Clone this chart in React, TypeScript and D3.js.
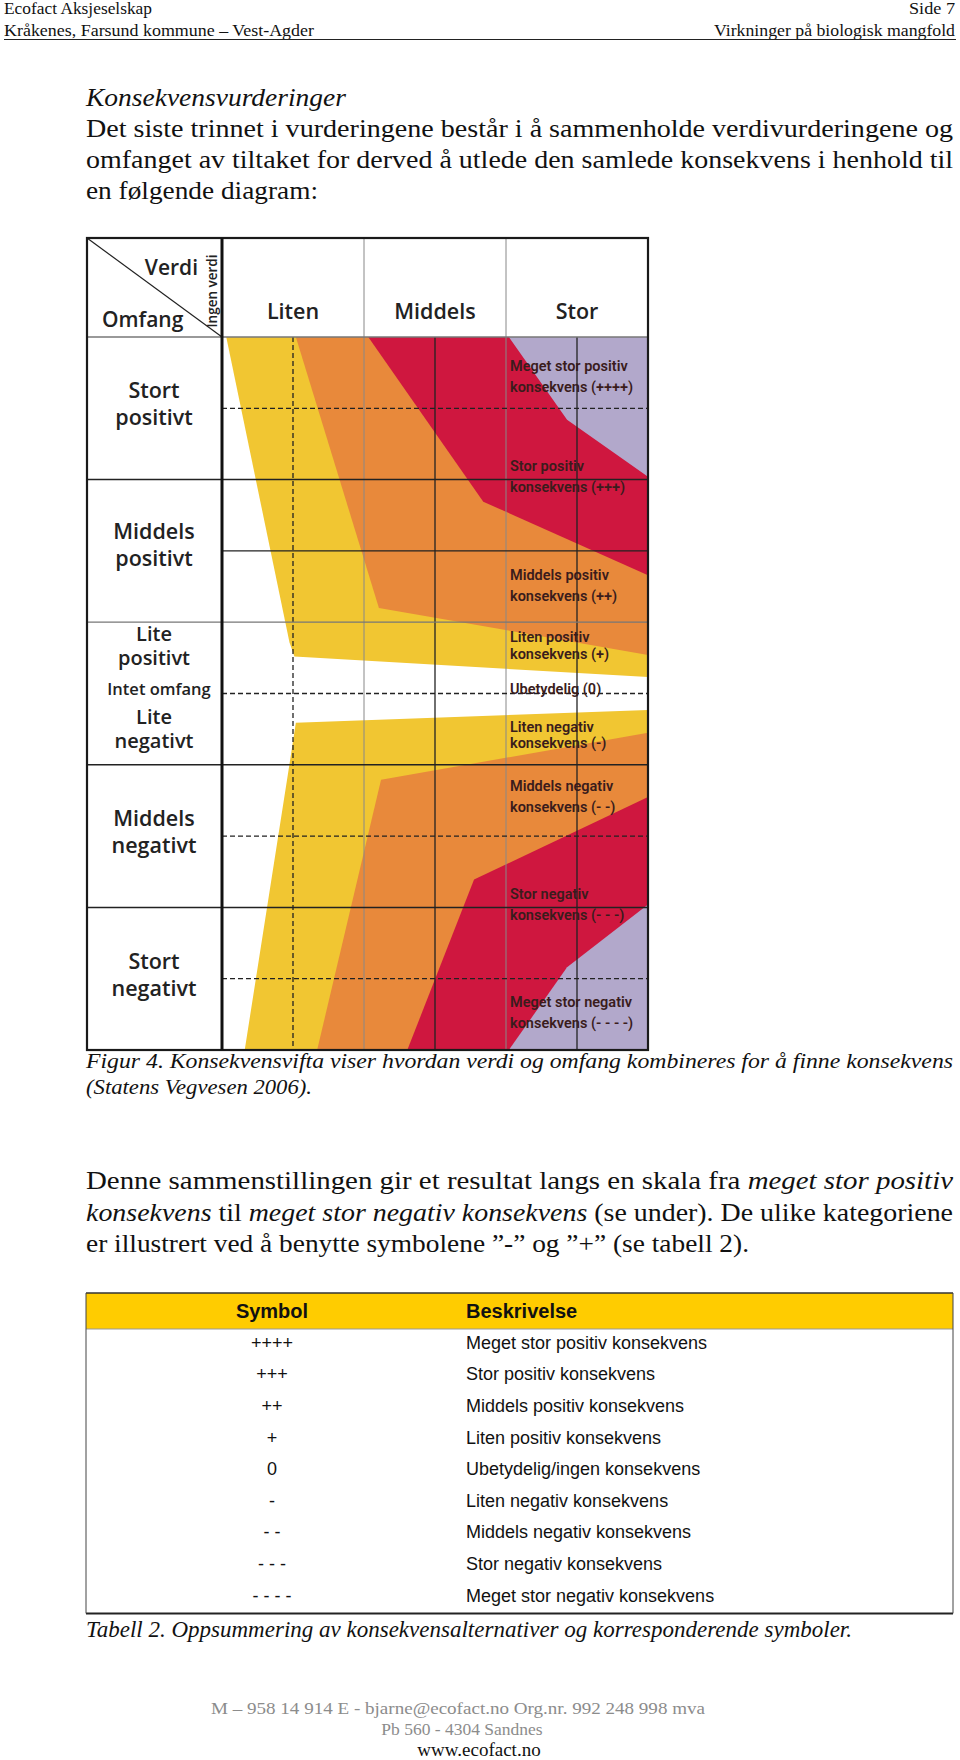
import React from 'react';
import * as d3 from 'd3';

// ---------------- data ----------------
const headerLeft = ['Ecofact Aksjeselskap', 'Kråkenes, Farsund kommune – Vest-Agder'];
const headerRight = ['Side 7', 'Virkninger på biologisk mangfold'];

const introTitle = 'Konsekvensvurderinger';
const introLines = [
  'Det siste trinnet i vurderingene består i å sammenholde verdivurderingene og',
  'omfanget av tiltaket for derved å utlede den samlede konsekvens i henhold til',
  'en følgende diagram:',
];

const verdiCategories = ['Liten', 'Middels', 'Stor'];
// omfang categories: label lines, label centre on the omfang scale (+5 .. -5)
const omfangCategories = [
  { lines: ['Stort', 'positivt'], mid: 4.05 },
  { lines: ['Middels', 'positivt'], mid: 2.08 },
  { lines: ['Lite', 'positivt'], mid: 0.66 },
  { lines: ['Lite', 'negativt'], mid: -0.5 },
  { lines: ['Middels', 'negativt'], mid: -1.95 },
  { lines: ['Stort', 'negativt'], mid: -3.95 },
];
const intetOmfang = 'Intet omfang';

// consequence bands: boundary lines (verdi half-column units 0..6, omfang -5..5)
const posYellow = [[0.06, 5], [0.95, 0.72], [1.02, 0.52], [6, 0.23]];
const posOrange = [[1.04, 5], [2.21, 1.2], [6, 0.54]];
const posRed = [[2.06, 5], [3.68, 2.69], [6, 1.66]];
const posPurple = [[4.04, 5], [4.86, 3.84], [5.46, 3.42], [6, 3.04]];
const negYellow = [[0.32, -5], [0.96, -0.93], [1.04, -0.41], [6, -0.23]];
const negOrange = [[1.34, -5], [2.24, -1.21], [6, -0.55]];
const negRed = [[2.61, -5], [3.55, -2.61], [6, -1.45]];
const negPurple = [[4.04, -5], [4.86, -3.84], [6, -2.96]];

const consequenceLabels = [
  { lines: ['Meget stor positiv', 'konsekvens (++++)'], at: 4.45 },
  { lines: ['Stor positiv', 'konsekvens  (+++)'], at: 3.04 },
  { lines: ['Middels positiv', 'konsekvens (++)'], at: 1.51 },
  { lines: ['Liten positiv', 'konsekvens (+)'], at: 0.67 },
  { lines: ['Ubetydelig (0)'], at: 0.06 },
  { lines: ['Liten negativ', 'konsekvens (-)'], at: -0.58 },
  { lines: ['Middels negativ', 'konsekvens (- -)'], at: -1.44 },
  { lines: ['Stor negativ', 'konsekvens (- - -)'], at: -2.96 },
  { lines: ['Meget stor negativ', 'konsekvens  (- - - -)'], at: -4.47 },
];

const figCaption = [
  'Figur 4. Konsekvensvifta viser hvordan verdi og omfang kombineres for å finne konsekvens',
  '(Statens Vegvesen 2006).',
];

const paragraph = [
  [{ t: 'Denne sammenstillingen gir et resultat langs en skala fra ' }, { t: 'meget stor positiv', i: true }],
  [{ t: 'konsekvens', i: true }, { t: ' til ' }, { t: 'meget stor negativ konsekvens', i: true }, { t: ' (se under). De ulike kategoriene' }],
  [{ t: 'er illustrert ved å benytte symbolene ”-” og ”+” (se tabell 2).' }],
];

const tableHeader = ['Symbol', 'Beskrivelse'];
const symbols = ['++++', '+++', '++', '+', '0', '-', '- -', '- - -', '- - - -'];
const descriptions = [
  'Meget stor positiv konsekvens',
  'Stor positiv konsekvens',
  'Middels positiv konsekvens',
  'Liten positiv konsekvens',
  'Ubetydelig/ingen konsekvens',
  'Liten negativ konsekvens',
  'Middels negativ konsekvens',
  'Stor negativ konsekvens',
  'Meget stor negativ konsekvens',
];
const tableCaption = 'Tabell 2. Oppsummering av konsekvensalternativer og korresponderende symboler.';

const footer = [
  'M – 958 14 914 E - bjarne@ecofact.no Org.nr. 992 248 998 mva',
  'Pb 560 - 4304 Sandnes',
  'www.ecofact.no',
];

// ---------------- layout / style ----------------
const SERIF = '"Liberation Serif", "Times New Roman", serif';
const SANS = '"Open Sans", "Noto Sans", sans-serif';
const ARIAL = '"Liberation Sans", Arial, sans-serif';
const C_YELLOW = '#F1C632';
const C_ORANGE = '#E8893B';
const C_RED = '#CF173F';
const C_PURPLE = '#B2A8CB';

const D_LEFT = 87, D_TOP = 238, D_HEAD = 337, D_X0 = 222, D_X1 = 648, D_Y1 = 1050;

export default function App() {
  const x = d3.scaleLinear().domain([0, 6]).range([D_X0, D_X1]);
  const y = d3.scaleLinear().domain([5, -5]).range([D_HEAD, D_Y1]);
  const line = d3.line<number[]>().x((d) => x(d[0])).y((d) => y(d[1]));
  const band = (pts: number[][], cornerY: number) => line([...pts, [6, cornerY]]) + 'Z';

  const bands = [
    { pts: posYellow, c: C_YELLOW, k: 5 },
    { pts: posOrange, c: C_ORANGE, k: 5 },
    { pts: posRed, c: C_RED, k: 5 },
    { pts: posPurple, c: C_PURPLE, k: 5 },
    { pts: negYellow, c: C_YELLOW, k: -5 },
    { pts: negOrange, c: C_ORANGE, k: -5 },
    { pts: negRed, c: C_RED, k: -5 },
    { pts: negPurple, c: C_PURPLE, k: -5 },
  ];

  const vGrid = [
    { v: 1, dash: '5,3', c: '#222', w: 1.3 },
    { v: 2, dash: null, c: '#888', w: 1 },
    { v: 3, dash: null, c: '#222', w: 1.3 },
    { v: 4, dash: null, c: '#888', w: 1 },
    { v: 5, dash: null, c: '#222', w: 1.3 },
  ];
  const hGrid = [
    { v: 4, dash: '5,3', c: '#222', w: 1.3 },
    { v: 3, dash: null, c: '#222', w: 1.5, full: true },
    { v: 2, dash: null, c: '#222', w: 1.3 },
    { v: 1, dash: null, c: '#777', w: 1.3, full: true },
    { v: 0, dash: '5,3', c: '#222', w: 1.3 },
    { v: -1, dash: null, c: '#222', w: 1.5, full: true },
    { v: -2, dash: '5,3', c: '#222', w: 1.3 },
    { v: -3, dash: null, c: '#222', w: 1.5, full: true },
    { v: -4, dash: '5,3', c: '#222', w: 1.3 },
  ];

  const colW = (D_X1 - D_X0) / 3;
  const tableTop = 1293, headH = 36, rowH = 31.6, tableL = 86, tableR = 953;
  const tableBottom = tableTop + headH + rowH * symbols.length;

  return (
    <svg width={960} height={1760} style={{ position: 'absolute', left: 0, top: 0, background: '#fff' }}
      xmlns="http://www.w3.org/2000/svg">
      <rect x={0} y={0} width={960} height={1760} fill="#fff" />
      {/* page header */}
      <g fontFamily={SERIF} fontSize={16.5} fill="#111">
        <text x={4} y={14} textLength={148} lengthAdjust="spacingAndGlyphs">{headerLeft[0]}</text>
        <text x={4} y={35.5} textLength={310} lengthAdjust="spacingAndGlyphs">{headerLeft[1]}</text>
        <text x={909} y={14} textLength={46} lengthAdjust="spacingAndGlyphs">{headerRight[0]}</text>
        <text x={714} y={35.5} textLength={241} lengthAdjust="spacingAndGlyphs">{headerRight[1]}</text>
      </g>
      <line x1={4} x2={956} y1={39.5} y2={39.5} stroke="#222" strokeWidth={1.2} />

      {/* intro text */}
      <g fontFamily={SERIF} fontSize={25} fill="#111">
        <text x={86} y={106} fontStyle="italic" textLength={260} lengthAdjust="spacingAndGlyphs">{introTitle}</text>
        <text x={86} y={136.5} textLength={867} lengthAdjust="spacingAndGlyphs">{introLines[0]}</text>
        <text x={86} y={167.5} textLength={867} lengthAdjust="spacingAndGlyphs">{introLines[1]}</text>
        <text x={86} y={198.5} textLength={232} lengthAdjust="spacingAndGlyphs">{introLines[2]}</text>
      </g>

      {/* diagram */}
      <g>
        {bands.map((b, i) => (
          <path key={i} d={band(b.pts, b.k)} fill={b.c} />
        ))}
        {vGrid.map((g, i) => (
          <line key={'v' + i} x1={x(g.v)} x2={x(g.v)} y1={g.v % 2 === 0 ? D_TOP : D_HEAD} y2={D_Y1}
            stroke={g.c} strokeWidth={g.w} strokeDasharray={g.dash || undefined} />
        ))}
        {hGrid.map((g, i) => (
          <line key={'h' + i} x1={g.full ? D_LEFT : D_X0} x2={D_X1} y1={y(g.v)} y2={y(g.v)}
            stroke={g.c} strokeWidth={g.w} strokeDasharray={g.dash || undefined} />
        ))}
        {/* header bottom */}
        <line x1={D_LEFT} x2={D_X1} y1={D_HEAD} y2={D_HEAD} stroke="#777" strokeWidth={1.5} />
        {/* corner diagonal */}
        <line x1={D_LEFT} y1={D_TOP} x2={D_X0} y2={D_HEAD} stroke="#222" strokeWidth={1.2} />
        {/* frame */}
        <rect x={D_LEFT} y={D_TOP} width={D_X1 - D_LEFT} height={D_Y1 - D_TOP} fill="none" stroke="#1a1a1a" strokeWidth={2.2} />
        <line x1={D_X0} x2={D_X0} y1={D_TOP} y2={D_Y1} stroke="#111" strokeWidth={3} />

        {/* corner labels */}
        <g fontFamily={SANS} fontWeight={600} fill="#222">
          <text x={198} y={275} fontSize={21} textAnchor="end">Verdi</text>
          <text x={102} y={327} fontSize={21}>Omfang</text>
          <text transform="translate(217,291) rotate(-90)" fontSize={13.5} textAnchor="middle">Ingen verdi</text>
        </g>
        {/* column headers */}
        <g fontFamily={SANS} fontWeight={600} fill="#222" fontSize={21.5} textAnchor="middle">
          {verdiCategories.map((c, i) => (
            <text key={c} x={D_X0 + colW * (i + 0.5)} y={319}>{c}</text>
          ))}
        </g>
        {/* row labels */}
        <g fontFamily={SANS} fontWeight={600} fill="#222" textAnchor="middle">
          {omfangCategories.map((c, i) => {
            const lite = c.lines[0] === 'Lite';
            const gap = lite ? 24 : 27;
            const y0 = y(c.mid) + 7 - gap / 2;
            return (
              <g key={i} fontSize={lite ? 20 : 21.5}>
                <text x={154} y={y0}>{c.lines[0]}</text>
                <text x={154} y={y0 + gap}>{c.lines[1]}</text>
              </g>
            );
          })}
          <text x={159} y={y(0) + 1} fontSize={16.5}>{intetOmfang}</text>
        </g>
        {/* consequence labels */}
        <g fontFamily={'Roboto, sans-serif'} fontWeight={600} fill="#3a1c1c" fontSize={14.5}>
          {consequenceLabels.map((c, i) => {
            const gap = c.lines[0].startsWith('Liten') ? 16.5 : 21;
            const y0 = y(c.at) - (c.lines.length - 1) * gap / 2 + 5;
            return (
              <text key={i} x={510} y={y0}>
                {c.lines.map((l, j) => (
                  <tspan key={j} x={510} y={y0 + j * gap}>{l}</tspan>
                ))}
              </text>
            );
          })}
        </g>
      </g>

      {/* figure caption */}
      <g fontFamily={SERIF} fontSize={20.5} fontStyle="italic" fill="#111">
        <text x={86} y={1068} textLength={867} lengthAdjust="spacingAndGlyphs">{figCaption[0]}</text>
        <text x={86} y={1094} textLength={226} lengthAdjust="spacingAndGlyphs">{figCaption[1]}</text>
      </g>

      {/* paragraph */}
      <g fontFamily={SERIF} fontSize={25} fill="#111">
        {paragraph.map((ln, i) => (
          <text key={i} x={86} y={1189 + i * 31.5} textLength={i < 2 ? 867 : 663} lengthAdjust="spacingAndGlyphs">
            {ln.map((s, j) => (
              <tspan key={j} fontStyle={s.i ? 'italic' : 'normal'}>{s.t}</tspan>
            ))}
          </text>
        ))}
      </g>

      {/* table */}
      <g>
        <rect x={tableL} y={tableTop} width={tableR - tableL} height={headH} fill="#FFCC00" />
        <line x1={tableL} x2={tableR} y1={tableTop} y2={tableTop} stroke="#333" strokeWidth={1.5} />
        <line x1={tableL} x2={tableR} y1={tableTop + headH} y2={tableTop + headH} stroke="#999" strokeWidth={1} />
        <line x1={tableL} x2={tableR} y1={tableBottom} y2={tableBottom} stroke="#222" strokeWidth={2} />
        <line x1={tableL} x2={tableL} y1={tableTop} y2={tableBottom} stroke="#444" strokeWidth={1} />
        <line x1={tableR} x2={tableR} y1={tableTop} y2={tableBottom} stroke="#444" strokeWidth={1} />
        <g fontFamily={ARIAL} fontWeight={700} fontSize={20} fill="#111">
          <text x={272} y={tableTop + 25} textAnchor="middle">{tableHeader[0]}</text>
          <text x={466} y={tableTop + 25}>{tableHeader[1]}</text>
        </g>
        <g fontFamily={ARIAL} fontSize={18} fill="#111">
          {symbols.map((s, i) => (
            <text key={'s' + i} x={272} y={tableTop + headH + rowH * (i + 0.5) + 4} textAnchor="middle">{s}</text>
          ))}
          {descriptions.map((s, i) => (
            <text key={'d' + i} x={466} y={tableTop + headH + rowH * (i + 0.5) + 4}>{s}</text>
          ))}
        </g>
      </g>
      <text x={86} y={1637} fontFamily={SERIF} fontSize={22.5} fontStyle="italic" fill="#111"
        textLength={766} lengthAdjust="spacingAndGlyphs">{tableCaption}</text>

      {/* footer */}
      <g textAnchor="middle">
        <text x={458} y={1714} fontFamily={SERIF} fontSize={17} fill="#8c8c8c" textLength={494} lengthAdjust="spacingAndGlyphs">{footer[0]}</text>
        <text x={462} y={1735} fontFamily={SERIF} fontSize={17.5} fill="#8c8c8c">{footer[1]}</text>
        <text x={479} y={1756} fontFamily={SERIF} fontSize={19} fill="#111">{footer[2]}</text>
      </g>
    </svg>
  );
}
